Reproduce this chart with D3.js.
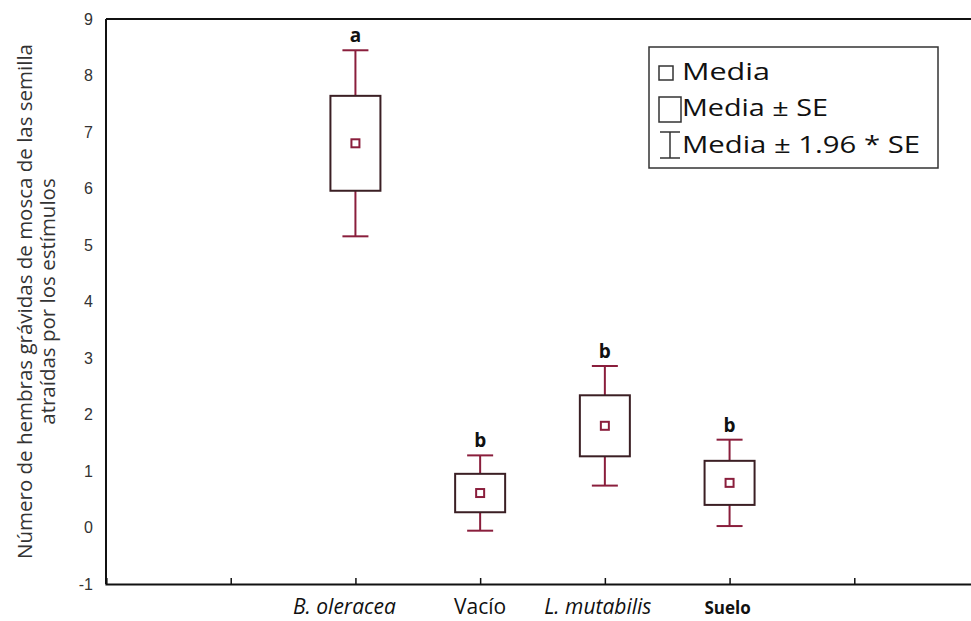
<!DOCTYPE html>
<html>
<head>
<meta charset="utf-8">
<script src="https://cdn.jsdelivr.net/npm/d3@7"></script>
<style>
  html, body { margin: 0; padding: 0; background: #fff; }
  svg { display: block; }
</style>
</head>
<body>
<svg id="chart" width="971" height="621"></svg>
<script>
// Stimulus groups, their x slot on the categorical axis, and summary statistics
const categories = ["B. oleracea", "Vacío", "L. mutabilis", "Suelo"];
const positions = [2, 3, 4, 5];
const means = [6.80, 0.61, 1.80, 0.79];
const se = [0.84, 0.34, 0.54, 0.39];
const groupLetters = ["a", "b", "b", "b"];
const yTicks = [-1, 0, 1, 2, 3, 4, 5, 6, 7, 8, 9];
const xTicks = [1, 2, 3, 4, 5, 6];
const legendText = ["Media", "Media ± SE", "Media ± 1.96 * SE"];

const svg = d3.select("#chart");
const margin = { left: 106, top: 19, bottom: 584 };
const x = d3.scaleLinear().domain([0, 7]).range([margin.left, 979]);
const y = d3.scaleLinear().domain([-1, 9]).range([margin.bottom, margin.top]);

const boxColor = "#3b1f24";
const whiskerColor = "#8a1e3c";
const boxW = 50, capW = 26, meanSz = 8;
const sans = "Open Sans, sans-serif";

// Frame: left and top lines
svg.append("line").attr("x1", x(0)).attr("x2", x(0)).attr("y1", y(9)).attr("y2", y(-1))
  .attr("stroke", "#111").attr("stroke-width", 2);
svg.append("line").attr("x1", x(0)).attr("x2", x(7)).attr("y1", y(9)).attr("y2", y(9))
  .attr("stroke", "#111").attr("stroke-width", 2);

// x axis with inward ticks, no tick labels
const xAxis = d3.axisBottom(x).tickValues(xTicks).tickSize(-6).tickFormat("");
const gx = svg.append("g").attr("transform", `translate(0,${y(-1)})`).call(xAxis);
gx.select(".domain").attr("stroke", "#111").attr("stroke-width", 2.2);
gx.selectAll(".tick line").attr("stroke", "#111").attr("stroke-width", 1.5);

// y axis labels only
const yAxis = d3.axisLeft(y).tickValues(yTicks).tickSize(0).tickPadding(13).tickFormat(d3.format("d"));
const gy = svg.append("g").attr("transform", `translate(${x(0)},0)`).call(yAxis);
gy.select(".domain").remove();
gy.selectAll(".tick text")
  .attr("font-family", "Liberation Sans, Arial, sans-serif")
  .attr("font-size", 16).attr("fill", "#333")
  .text(d => d < 0 ? "-" + Math.abs(d) : d);

// y axis title
const yTitle = svg.append("text")
  .attr("transform", `translate(32,${(y(9) + y(-1)) / 2}) rotate(-90)`)
  .attr("text-anchor", "middle")
  .attr("font-family", sans).attr("font-size", 20.5).attr("fill", "#333");
yTitle.append("tspan").attr("x", 0).attr("dy", 0).text("Número de hembras grávidas de mosca de las semilla");
yTitle.append("tspan").attr("x", 0).attr("dy", 23).text("atraídas por los estímulos");

// category labels
const labelStyle = [
  { style: "italic", weight: "normal", size: 21, dx: -11 },
  { style: "normal", weight: "normal", size: 21, dx: 0 },
  { style: "italic", weight: "normal", size: 21, dx: -7 },
  { style: "normal", weight: "bold", size: 17, dx: -2 }
];
svg.selectAll(".cat").data(categories).enter().append("text")
  .attr("x", (d, i) => x(positions[i]) + labelStyle[i].dx)
  .attr("y", 614)
  .attr("text-anchor", "middle")
  .attr("font-family", sans)
  .attr("font-style", (d, i) => labelStyle[i].style)
  .attr("font-weight", (d, i) => labelStyle[i].weight)
  .attr("font-size", (d, i) => labelStyle[i].size)
  .attr("fill", "#111")
  .text(d => d);

// one glyph per group: whiskers (mean ± 1.96 SE), box (mean ± SE), mean marker
const groups = svg.selectAll(".grp").data(categories).enter().append("g");
groups.each(function(d, i) {
  const g = d3.select(this);
  const cx = x(positions[i]);
  const m = means[i], s = se[i];
  const hi = m + 1.96 * s, lo = m - 1.96 * s;
  g.append("line").attr("x1", cx).attr("x2", cx).attr("y1", y(hi)).attr("y2", y(m + s))
    .attr("stroke", whiskerColor).attr("stroke-width", 2);
  g.append("line").attr("x1", cx).attr("x2", cx).attr("y1", y(m - s)).attr("y2", y(lo))
    .attr("stroke", whiskerColor).attr("stroke-width", 2);
  g.append("line").attr("x1", cx - capW / 2).attr("x2", cx + capW / 2).attr("y1", y(hi)).attr("y2", y(hi))
    .attr("stroke", whiskerColor).attr("stroke-width", 2);
  g.append("line").attr("x1", cx - capW / 2).attr("x2", cx + capW / 2).attr("y1", y(lo)).attr("y2", y(lo))
    .attr("stroke", whiskerColor).attr("stroke-width", 2);
  g.append("rect").attr("x", cx - boxW / 2).attr("y", y(m + s))
    .attr("width", boxW).attr("height", y(m - s) - y(m + s))
    .attr("fill", "none").attr("stroke", boxColor).attr("stroke-width", 2);
  g.append("rect").attr("x", cx - meanSz / 2).attr("y", y(m) - meanSz / 2)
    .attr("width", meanSz).attr("height", meanSz)
    .attr("fill", "none").attr("stroke", whiskerColor).attr("stroke-width", 2);
  g.append("text").attr("x", cx).attr("y", y(hi) - 8)
    .attr("text-anchor", "middle")
    .attr("font-family", sans).attr("font-weight", "bold")
    .attr("font-size", 19).attr("fill", "#111")
    .text(groupLetters[i]);
});

// legend
const lg = svg.append("g").attr("transform", "translate(649,47)");
lg.append("rect").attr("width", 289).attr("height", 121)
  .attr("fill", "#fff").attr("stroke", "#333").attr("stroke-width", 1.5);
const rowBase = [33, 69, 106];
const rowLen = [88, 146, 238];
legendText.forEach((t, i) => {
  lg.append("text").attr("x", 33).attr("y", rowBase[i])
    .attr("font-family", sans).attr("font-size", 23).attr("fill", "#111")
    .attr("textLength", rowLen[i]).attr("lengthAdjust", "spacingAndGlyphs")
    .text(t);
});
lg.append("rect").attr("x", 10).attr("y", 19).attr("width", 14).attr("height", 14)
  .attr("fill", "none").attr("stroke", "#333").attr("stroke-width", 1.5);
lg.append("rect").attr("x", 10).attr("y", 50).attr("width", 22).attr("height", 25)
  .attr("fill", "none").attr("stroke", "#333").attr("stroke-width", 1.5);
lg.append("line").attr("x1", 21).attr("x2", 21).attr("y1", 85).attr("y2", 111).attr("stroke", "#333").attr("stroke-width", 1.5);
lg.append("line").attr("x1", 11).attr("x2", 31).attr("y1", 85).attr("y2", 85).attr("stroke", "#333").attr("stroke-width", 1.5);
lg.append("line").attr("x1", 11).attr("x2", 31).attr("y1", 111).attr("y2", 111).attr("stroke", "#333").attr("stroke-width", 1.5);
</script>
</body>
</html>
